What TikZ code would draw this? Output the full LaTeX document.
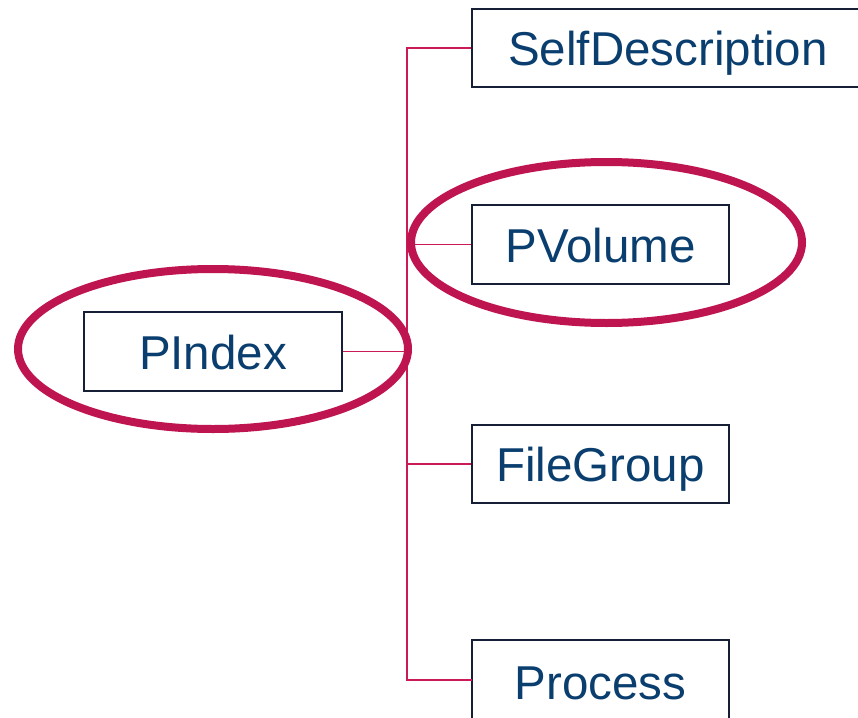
\documentclass[tikz,border=0pt]{standalone}
\usepackage{fontspec}
\setmainfont{Liberation Sans}
\definecolor{labelblue}{HTML}{0A3E6F}
\definecolor{boxline}{HTML}{161F36}
\definecolor{linkred}{HTML}{CC1A55}
\definecolor{ringred}{HTML}{BE1550}
\tikzset{
  classbox/.style={draw=boxline, line width=2.4pt, fill=white, rectangle,
    inner sep=0pt, minimum height=78pt, text=labelblue,
    text height=35pt, text depth=0pt,
    font=\fontsize{47.5}{50}\selectfont},
  link/.style={draw=linkred, line width=1.3pt},
  ring/.style={draw=ringred, line width=8pt}
}
\begin{document}
\begin{tikzpicture}[x=1pt, y=-1pt]
  \useasboundingbox (0,0) rectangle (858,717);
  \fill[white] (0,0) rectangle (858,717);

  % tree nodes
  \node[classbox, minimum width=258pt, minimum height=79pt] (pindex) at (213,351.5) {PIndex};
  \node[classbox, minimum width=392pt] (selfdesc) at (668,48) {SelfDescription};
  \node[classbox, minimum width=257pt, minimum height=79pt] (pvolume) at (600.5,244.5) {PVolume};
  \node[classbox, minimum width=257pt] (filegroup) at (600.5,464) {FileGroup};
  \node[classbox, minimum width=257pt, minimum height=84pt] (process) at (600.5,682) {Process};

  % shared trunk of the tree
  \coordinate (trunk) at (407,0);
  \coordinate (procjoin) at (472,680);
  \draw[link] (selfdesc.west) -- (selfdesc.west -| trunk)
              -- (procjoin -| trunk) -- (procjoin);
  \draw[link] (pindex.east) -- (pindex.east -| trunk);
  \draw[link] (pvolume.west) -- (pvolume.west -| trunk);
  \draw[link] (filegroup.west) -- (filegroup.west -| trunk);

  % highlight rings
  \draw[ring] (pindex.center) ++(0,-2.5) ellipse [x radius=195, y radius=80];
  \draw[ring] (pvolume.center) ++(6,-2) ellipse [x radius=195.5, y radius=80.5];
\end{tikzpicture}
\end{document}
